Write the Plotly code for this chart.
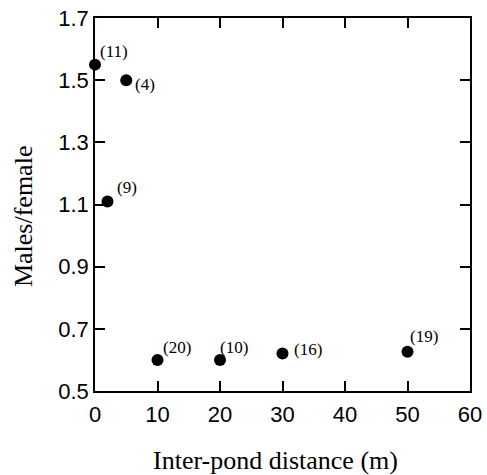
import plotly.graph_objects as go

distance = [0, 5, 2, 10, 20, 30, 50]
ratio = [1.55, 1.50, 1.11, 0.60, 0.60, 0.621, 0.626]
counts = ["(11)", "(4)", "(9)", "(20)", "(10)", "(16)", "(19)"]
x_ticks = [0, 10, 20, 30, 40, 50, 60]
y_ticks = [0.5, 0.7, 0.9, 1.1, 1.3, 1.5, 1.7]
y_tick_labels = ["0.5", "0.7", "0.9", "1.1", "1.3", "1.5", "1.7"]
x_title = "Inter-pond distance (m)"
y_title = "Males/female"

# label offsets (px) relative to each point
label_dx = [19, 19, 19, 19, 14, 25, 16]
label_dy = [13, -4, 14, 12, 12, 4, 15]

fig = go.Figure()
fig.add_trace(go.Scatter(
    x=distance, y=ratio, mode="markers",
    marker=dict(size=12, color="black"),
    cliponaxis=False, showlegend=False,
))

for xv, yv, t, dx, dy in zip(distance, ratio, counts, label_dx, label_dy):
    fig.add_annotation(x=xv, y=yv, text=t, showarrow=False,
                       xshift=dx, yshift=dy,
                       font=dict(family="Liberation Serif", size=17, color="black"))

title_font = dict(family="Liberation Serif", size=26, color="black")
fig.add_annotation(xref="paper", yref="paper", x=0.48, y=-0.185,
                   xanchor="center", yanchor="middle", showarrow=False,
                   text=x_title, font=title_font)
fig.add_annotation(xref="paper", yref="paper", x=-0.192, y=0.469,
                   xanchor="center", yanchor="middle", showarrow=False,
                   textangle=-90, text=y_title, font=title_font)

axis_common = dict(
    showline=True, linecolor="black", linewidth=1.5, mirror="ticks",
    ticks="inside", ticklen=10, tickwidth=1.5, tickcolor="black",
    showgrid=False, zeroline=False, ticklabeloverflow="allow",
    tickfont=dict(family="Liberation Sans", size=22, color="black"),
)

fig.update_xaxes(
    range=[0, 60], tickvals=x_ticks, ticktext=[str(v) for v in x_ticks],
    ticklabelstandoff=3,
    **axis_common,
)
fig.update_yaxes(
    range=[0.5, 1.7], tickvals=y_ticks, ticktext=y_tick_labels,
    ticklabelstandoff=0,
    **axis_common,
)

fig.update_layout(
    width=487, height=475,
    margin=dict(l=95, r=17, t=18, b=84, autoexpand=False),
    plot_bgcolor="white", paper_bgcolor="white",
)

fig.write_html(
    "out.html",
    config={"displayModeBar": False},
    post_script="document.documentElement.style.overflow='hidden';"
                "document.body.style.margin='0';"
                "document.body.style.overflow='hidden';",
)
